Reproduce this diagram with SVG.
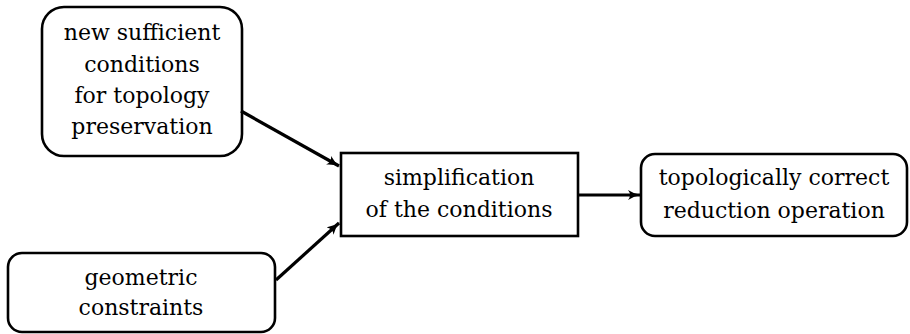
<svg xmlns="http://www.w3.org/2000/svg" width="910" height="334" viewBox="0 0 910 334">
<style>
.box{fill:#fff;stroke:#000;stroke-width:2.6}
.t{font-family:"DejaVu Serif",serif;font-size:22px;fill:#000;text-anchor:middle}
.c{fill:none;stroke:#000;stroke-width:3.2}
</style>
<defs>
<marker id="ah" viewBox="0 0 13 10" refX="12" refY="5" markerWidth="13" markerHeight="10" markerUnits="userSpaceOnUse" orient="auto">
<path d="M0,0 Q6,4 13,5 Q6,6 0,10 Q4,5 0,0 Z" fill="#000"/>
</marker>
</defs>
<g id="n1">
<rect class="box" x="42" y="7" width="200" height="149" rx="22"/>
<text class="t" x="142" y="40">new sufficient</text>
<text class="t" x="142" y="72">conditions</text>
<text class="t" x="142" y="103">for topology</text>
<text class="t" x="142" y="134">preservation</text>
</g>
<g id="n2">
<rect class="box" x="341" y="153" width="237" height="83"/>
<text class="t" x="459" y="185">simplification</text>
<text class="t" x="459" y="217">of the conditions</text>
</g>
<g id="n3">
<rect class="box" x="641" y="154" width="266" height="82" rx="14"/>
<text class="t" x="774" y="185">topologically correct</text>
<text class="t" x="774" y="218">reduction operation</text>
</g>
<g id="n4">
<rect class="box" x="8" y="253" width="267" height="79" rx="14"/>
<text class="t" x="141" y="285">geometric</text>
<text class="t" x="141" y="315">constraints</text>
</g>
<g id="connectors">
<line class="c" x1="241" y1="111" x2="339" y2="166" marker-end="url(#ah)"/>
<line class="c" x1="276" y1="280" x2="339" y2="223" marker-end="url(#ah)"/>
<line class="c" x1="578" y1="195" x2="640" y2="195" marker-end="url(#ah)"/>
</g>
</svg>
